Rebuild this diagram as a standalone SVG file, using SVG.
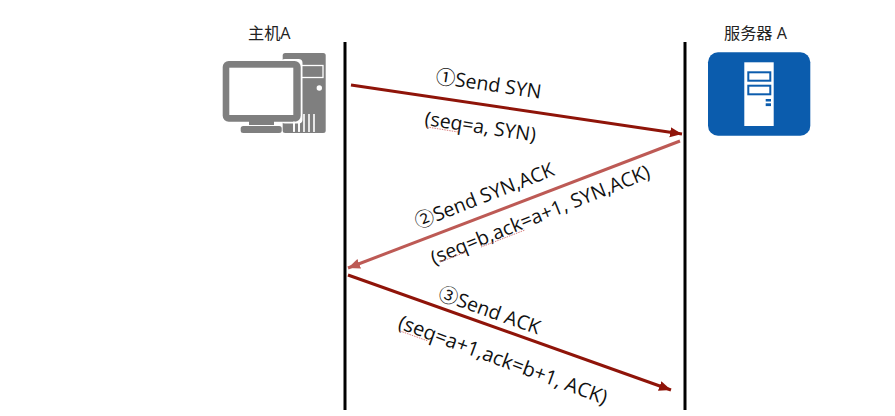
<svg xmlns="http://www.w3.org/2000/svg" width="895" height="416" viewBox="0 0 895 416">
<style>
.t{font-family:"Open Sans","Noto Sans CJK SC",sans-serif;font-size:19.500px;fill:#111}
.h{font-family:"Open Sans","Noto Sans CJK SC",sans-serif;font-size:16.200px;fill:#222}
.g{fill:#7f7f7f}
.life{stroke:#000;stroke-width:3;fill:none}
.a1{stroke:#8f1409;stroke-width:3;fill:none}
.a2{stroke:#bd5a55;stroke-width:3;fill:none}
.sq{stroke:#d98080;stroke-width:1;fill:none;stroke-dasharray:1.5 1}
</style>
<defs>
<marker id="m1" markerUnits="userSpaceOnUse" markerWidth="14" markerHeight="12" refX="12" refY="5" orient="auto"><path d="M0 0L12 5L0 10Z" fill="#8f1409"/></marker>
<marker id="m2" markerUnits="userSpaceOnUse" markerWidth="14" markerHeight="12" refX="12" refY="5" orient="auto"><path d="M0 0L12 5L0 10Z" fill="#bd5a55"/></marker>
</defs>
<rect width="895" height="416" fill="#fff"/>
<g id="hostA">
<text class="h" x="248" y="39">主机A</text>
<rect class="g" x="282.700" y="53" width="43" height="80" rx="2.500"/>
<rect x="301" y="65.500" width="22" height="12" fill="none" stroke="#fff" stroke-width="1.300"/>
<circle cx="319.300" cy="88" r="2.700" fill="#fff"/>
<path d="M294 114v18M299 114v18M304 114v18M309 114v18M314 114v18" stroke="#fff" stroke-width="1.600"/>
<rect x="281" y="59" width="21.500" height="64.500" fill="#fff" rx="4"/>
<rect class="g" x="222.700" y="61" width="78" height="60.700" rx="6"/>
<rect x="229.300" y="67.700" width="64" height="47.300" fill="#fff"/>
<rect class="g" x="249" y="121" width="25" height="4"/>
<rect class="g" x="240.700" y="126" width="41" height="7" rx="2.500"/>
<path d="M294 121.500v10M299 121.500v10" stroke="#fff" stroke-width="1.600"/>
</g>
<g id="serverA">
<text class="h" x="724" y="39">服务器 A</text>
<rect x="708" y="52.300" width="102.300" height="83.400" rx="10" fill="#0b5cad"/>
<rect x="744.300" y="62.300" width="29.400" height="63.700" fill="#fff"/>
<rect x="748.300" y="72.300" width="22" height="8.400" fill="#fff" stroke="#0b5cad" stroke-width="2"/>
<rect x="748.300" y="85.700" width="22" height="8.600" fill="#fff" stroke="#0b5cad" stroke-width="2"/>
<rect x="765.700" y="99" width="5.300" height="2.500" fill="#0b5cad"/>
<rect x="765.700" y="103.300" width="5.300" height="2.800" fill="#0b5cad"/>
</g>
<g id="connectors">
<line class="life" x1="345" y1="42" x2="345" y2="410"/>
<line class="life" x1="685" y1="42" x2="685" y2="410"/>
<line class="a1" x1="351" y1="85" x2="682" y2="134" marker-end="url(#m1)"/>
<line class="a2" x1="680" y1="141" x2="348" y2="268" marker-end="url(#m2)"/>
<line class="a1" x1="348" y1="275" x2="671" y2="390" marker-end="url(#m1)"/>
</g>
<g id="labels">
<text class="t" transform="translate(435 83) rotate(8.500)">①Send SYN</text>
<text class="t" transform="translate(424 125) rotate(8.500)">(seq=a, SYN)</text>
<path class="sq" d="M427 127L458 132"/>
<text class="t" transform="translate(418 229) rotate(-21.500)">②Send SYN,ACK</text>
<text class="t" transform="translate(434 265) rotate(-22)">(seq=b,ack=a+1, SYN,ACK)</text>
<path class="sq" d="M440 262L466 252M481 247L525 230"/>
<text class="t" transform="translate(437 299) rotate(19.500)">③Send ACK</text>
<text class="t" style="font-size:20px" transform="translate(397 328) rotate(20.300)">(seq=a+1,ack=b+1, ACK)</text>
<path class="sq" d="M400 331L428 341"/>
</g>
</svg>
